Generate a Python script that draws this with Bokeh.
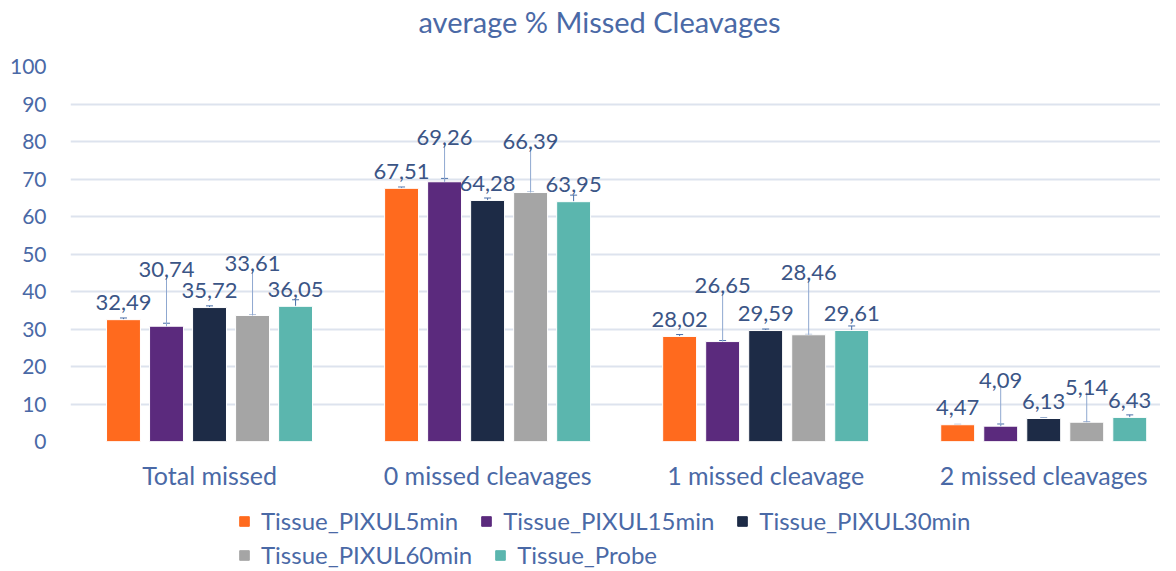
from bokeh.plotting import figure
from bokeh.layouts import column
from bokeh.models import (ColumnDataSource, Range1d, FixedTicker, Whisker, Legend,
                          LegendItem, TeeHead)
from bokeh.embed import file_html
from bokeh.resources import INLINE

# ---------------- data ----------------
categories = ["Total missed", "0 missed cleavages", "1 missed cleavage", "2 missed cleavages"]
series_names = ["Tissue_PIXUL5min", "Tissue_PIXUL15min", "Tissue_PIXUL30min",
                "Tissue_PIXUL60min", "Tissue_Probe"]

pixul5 = [32.49, 67.51, 28.02, 4.47]
pixul15 = [30.74, 69.26, 26.65, 4.09]
pixul30 = [35.72, 64.28, 29.59, 6.13]
pixul60 = [33.61, 66.39, 28.46, 5.14]
probe = [36.05, 63.95, 29.61, 6.43]

err5 = [0.45, 0.35, 0.5, 0.1]
err15 = [0.8, 0.9, 0.27, 0.58]
err30 = [0.45, 0.65, 0.4, 0.15]
err60 = [0.1, 0.1, 0.1, 0.1]
errp = [1.75, 1.75, 1.2, 0.67]

y_ticks = [0, 10, 20, 30, 40, 50, 60, 70, 80, 90, 100]

values = [pixul5, pixul15, pixul30, pixul60, probe]
errors = [err5, err15, err30, err60, errp]

# ---------------- style ----------------
colors = ["#FF6A1E", "#5B2A7D", "#1D2B46", "#A5A5A5", "#5BB6AE"]
text_color = "#4A69A6"
label_color = "#3B5586"
font = "Lato"
bar_pitch = 0.1547
bar_width = 0.122
# data labels lifted above bar (with leader line) for some series (data units)
label_lift = [
    [0, 0, 0, 0],
    [15.1, 11.9, 14.9, 12.3],
    [0, 0, 0, 0],
    [13.9, 13.5, 16.5, 9.3],
    [0, 0, 0, 0],
]

# title strip
pt = figure(width=1160, height=46, x_range=Range1d(0, 1), y_range=Range1d(0, 1),
            output_backend="svg", toolbar_location=None, min_border=0,
            title="average % Missed Cleavages")
pt.axis.visible = False
pt.grid.grid_line_color = None
pt.outline_line_color = None
pt.title.align = "left"
pt.title.offset = 348
pt.title.standoff = 6
pt.title.vertical_align = "top"
pt.title.text_font = font
pt.title.text_font_size = "29px"
pt.title.text_font_style = "normal"
pt.title.text_color = text_color

p = figure(width=1160, height=452, x_range=Range1d(-0.5, 3.42), y_range=Range1d(0, 100),
           output_backend="svg", toolbar_location=None,
           min_border_left=70, min_border_right=0, min_border_top=20, min_border_bottom=57)
p.outline_line_color = None
p.background_fill_color = "white"
p.border_fill_color = "white"

# legend strip below the chart
pl = figure(width=1160, height=71, x_range=Range1d(0, 1), y_range=Range1d(0, 1),
            output_backend="svg", toolbar_location=None, min_border=0)
pl.axis.visible = False
pl.grid.grid_line_color = None
pl.outline_line_color = None

legend_items = []
for i, (name, vals, errs, col) in enumerate(zip(series_names, values, errors, colors)):
    xs = [k + (i - 2) * bar_pitch for k in range(len(categories))]
    lift = label_lift[i]
    label_y = [v + l for v, l in zip(vals, lift)]
    src = ColumnDataSource(dict(
        x=xs, top=vals,
        upper=[v + e for v, e in zip(vals, errs)],
        lower=[v - e for v, e in zip(vals, errs)],
        ly=label_y,
        lbl=[f"{v:.2f}".replace(".", ",") for v in vals],
    ))
    p.vbar(x="x", top="top", width=bar_width, source=src, fill_color=col,
           line_color="white", line_width=1)
    # legend swatch renderer in the legend strip (its bar lies outside the visible range)
    rl = pl.vbar(x=[10], top=[1], width=0.1, fill_color=col, line_color=col)
    legend_items.append(LegendItem(label=name, renderers=[rl]))
    p.add_layout(Whisker(source=src, base="x", upper="upper", lower="lower",
                         line_color="#4A6FA8", line_width=1,
                         upper_head=TeeHead(size=7, line_color="#4A6FA8", line_width=1),
                         lower_head=TeeHead(size=7, line_color="#4A6FA8", line_width=1)))
    if any(lift):
        lsrc = ColumnDataSource(dict(
            x=xs, y0=[v for v in vals], y1=[v + l - 1.4 for v, l in zip(vals, lift)]))
        p.segment(x0="x", y0="y0", x1="x", y1="y1", source=lsrc,
                  line_color="#8FA8D0", line_width=1)
        p.text(x="x", y="ly", text="lbl", source=src, text_align="center",
               text_baseline="alphabetic", text_font={"value": font},
               text_font_size="22px", text_color=label_color)
    else:
        p.text(x="x", y="ly", text="lbl", source=src, text_align="center",
               text_baseline="alphabetic", y_offset=-17, text_font={"value": font},
               text_font_size="22px", text_color=label_color)

# axes
p.xgrid.grid_line_color = None
p.ygrid.grid_line_color = "#DDE3EE"
p.ygrid.grid_line_width = 2
p.yaxis.ticker = FixedTicker(ticks=y_ticks)
p.yaxis.axis_line_color = None
p.yaxis.major_tick_line_color = None
p.yaxis.minor_tick_line_color = None
p.yaxis.major_label_text_font = font
p.yaxis.major_label_text_font_size = "21px"
p.yaxis.major_label_text_color = text_color
p.yaxis.major_label_standoff = 18

p.xaxis.ticker = FixedTicker(ticks=list(range(len(categories))))
p.xaxis.major_label_overrides = {k: c for k, c in enumerate(categories)}
p.xaxis.axis_line_color = None
p.xaxis.major_tick_line_color = None
p.xaxis.minor_tick_line_color = None
p.xaxis.major_label_text_font = font
p.xaxis.major_label_text_font_size = "25px"
p.xaxis.major_label_text_color = text_color
p.xaxis.major_label_standoff = 12

for items, loc in ((legend_items[:3], (168, 34)), (legend_items[3:], (168, 0))):
    lg = Legend(items=items, orientation="horizontal", location=loc,
                label_text_font=font, label_text_font_size="24px",
                label_text_color=text_color, glyph_width=12, glyph_height=12,
                label_standoff=11, spacing=22, padding=0, margin=0,
                border_line_color=None, background_fill_alpha=0)
    pl.add_layout(lg, "center")

open("out.html", "w").write(file_html(column(pt, p, pl, spacing=0), INLINE))
